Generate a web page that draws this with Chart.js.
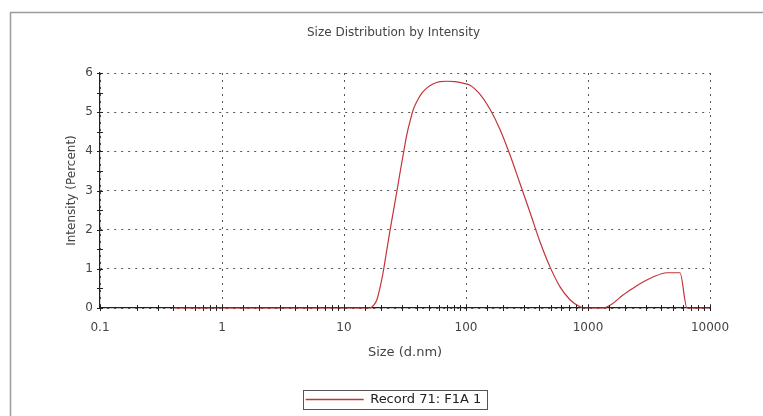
<!DOCTYPE html>
<html>
<head>
<meta charset="utf-8">
<script src="https://cdn.jsdelivr.net/npm/chart.js@4.4.1/dist/chart.umd.min.js"></script>
<style>
  html, body { margin: 0; padding: 0; background: #fff; }
</style>
</head>
<body>
<canvas id="chart" width="763" height="416"></canvas>
<script>
// size (d.nm) vs intensity (%)
let sizes = [0.4, 1, 10, 16.3, 17.6, 18.6, 19.7, 20.9, 22.1, 23.8, 25.2, 27.2, 28.8, 30.5, 32.8, 34.8, 36.8, 39.7,
  43.6, 47.9, 53.6, 61.2, 69.9, 81.2, 94.5, 108, 130, 157, 190, 230, 277, 335, 404, 488, 590, 712, 860, 945,
  1327, 1573, 1936, 2295, 2669, 3411, 4442, 5677, 6479, 10000];
let intensity = [0, 0, 0, 0, 0.08, 0.21, 0.51, 0.9, 1.36, 1.97, 2.41, 3.0, 3.46, 3.9, 4.44, 4.77, 5.05, 5.28,
  5.49, 5.62, 5.72, 5.78, 5.79, 5.78, 5.74, 5.69, 5.46, 5.08, 4.56, 3.9, 3.18, 2.44, 1.69, 1.05, 0.54, 0.21, 0.03, 0,
  0, 0.1, 0.33, 0.49, 0.62, 0.79, 0.9, 0.9, 0, 0];

let xTickLabels = ["0.1", "1", "10", "100", "1000", "10000"];
let yTickLabels = ["0", "1", "2", "3", "4", "5", "6"];
let seriesName = "Record 71: F1A 1";

let fontFamily = "'DejaVu Sans', sans-serif";
let textColor = "#444";
let lineColor = "#c3343a";

let isDecade = (v) => Math.abs(Math.log10(v) - Math.round(Math.log10(v))) < 1e-6;

let points = sizes.map((s, i) => ({ x: s, y: intensity[i] }));

// grey frame round the report panel
let framePlugin = {
  id: "frame",
  beforeDraw(chart) {
    let ctx = chart.ctx;
    ctx.save();
    ctx.strokeStyle = "#9c9c9c";
    ctx.lineWidth = 1.5;
    ctx.beginPath();
    ctx.moveTo(10.5, chart.height);
    ctx.lineTo(10.5, 12.5);
    ctx.lineTo(chart.width, 12.5);
    ctx.stroke();
    ctx.restore();
  }
};

// small tick marks that cross both axes
let crossTicks = {
  id: "crossTicks",
  afterDatasetsDraw(chart) {
    let ctx = chart.ctx;
    let xs = chart.scales.x;
    let ys = chart.scales.y;
    ctx.save();
    ctx.strokeStyle = "#222";
    ctx.lineWidth = 1;
    ctx.beginPath();
    ys.ticks.forEach((t) => {
      let py = Math.round(ys.getPixelForValue(t.value)) + 0.5;
      ctx.moveTo(xs.left - 3, py);
      ctx.lineTo(xs.left + 3, py);
    });
    xs.ticks.forEach((t) => {
      let px = Math.round(xs.getPixelForValue(t.value)) + 0.5;
      ctx.moveTo(px, ys.bottom - 3);
      ctx.lineTo(px, ys.bottom + 3);
    });
    ctx.stroke();
    ctx.restore();
  }
};

// box round the legend entry
let legendBox = {
  id: "legendBox",
  afterDraw(chart) {
    let hb = chart.legend.legendHitBoxes[0];
    if (!hb) return;
    let ctx = chart.ctx;
    ctx.save();
    ctx.strokeStyle = "#555";
    ctx.lineWidth = 1;
    ctx.strokeRect(Math.round(hb.left) - 2.5, Math.round(hb.top) - 2.5, Math.round(hb.width) + 8, Math.round(hb.height) + 6);
    ctx.restore();
  }
};

new Chart("chart", {
  type: "scatter",
  data: {
    datasets: [
      {
        label: seriesName,
        data: points,
        showLine: true,
        clip: 4,
        borderColor: lineColor,
        backgroundColor: lineColor,
        borderWidth: 1.2,
        pointRadius: 0,
        cubicInterpolationMode: "monotone",
      },
    ],
  },
  options: {
    responsive: false,
    animation: false,
    events: [],
    layout: { padding: { left: 24, right: 0, top: 0, bottom: 0 } },
    plugins: {
      title: {
        display: true,
        text: "Size Distribution by Intensity",
        color: textColor,
        font: { family: fontFamily, size: 12, weight: "normal" },
        padding: { top: 26, bottom: 32.6 },
      },
      legend: {
        position: "bottom",
        labels: {
          usePointStyle: true,
          pointStyle: "line",
          pointStyleWidth: 58,
          padding: 0,
          color: "#222",
          font: { family: fontFamily, size: 13 },
          generateLabels(chart) {
            let items = Chart.defaults.plugins.legend.labels.generateLabels(chart);
            items.forEach((it) => {
              it.strokeStyle = lineColor;
              it.lineWidth = 1.3;
            });
            return items;
          },
        },
      },
      tooltip: { enabled: false },
    },
    scales: {
      x: {
        type: "logarithmic",
        min: 0.1,
        max: 10000,
        afterFit(scale) {
          scale.height = 85;
          scale.paddingRight = 53;
        },
        border: { display: true, color: "#222", width: 1.2, dash: [2, 5] },
        grid: {
          drawTicks: false,
          color: (c) => (c.tick && isDecade(c.tick.value) ? "#555" : "transparent"),
        },
        ticks: {
          autoSkip: false,
          maxRotation: 0,
          padding: 13,
          color: textColor,
          font: { family: fontFamily, size: 12 },
          callback: (v) => (isDecade(v) ? xTickLabels[Math.round(Math.log10(v)) + 1] : ""),
        },
        title: {
          display: true,
          text: "Size (d.nm)",
          color: textColor,
          font: { family: fontFamily, size: 13 },
          padding: { top: 0, bottom: 33 },
        },
      },
      y: {
        min: 0,
        max: 6,
        afterFit(scale) {
          scale.width = 76;
        },
        border: { display: true, color: "#222", width: 1.2, dash: [2, 5] },
        grid: {
          drawTicks: false,
          color: (c) => (c.tick && Number.isInteger(c.tick.value) ? "#555" : "transparent"),
        },
        ticks: {
          stepSize: 0.5,
          autoSkip: false,
          padding: 7,
          color: textColor,
          font: { family: fontFamily, size: 12 },
          callback: (v) => (Number.isInteger(v) ? yTickLabels[v] : ""),
        },
        title: {
          display: true,
          text: "Intensity (Percent)",
          color: textColor,
          font: { family: fontFamily, size: 12 },
          padding: { top: 41, bottom: 0 },
        },
      },
    },
  },
  plugins: [framePlugin, crossTicks, legendBox],
});
</script>
</body>
</html>
